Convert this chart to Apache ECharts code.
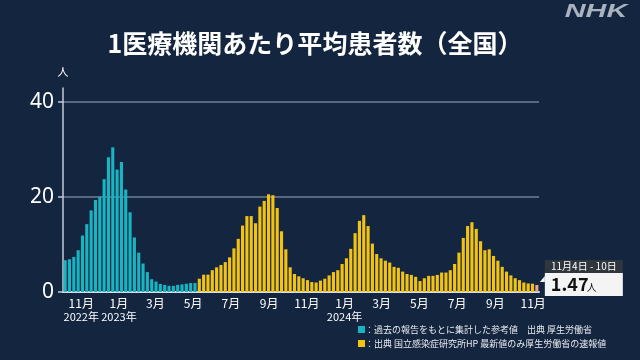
<!DOCTYPE html>
<html><head><meta charset="utf-8">
<script src="https://cdn.jsdelivr.net/npm/echarts@6/dist/echarts.min.js"></script>
<style>html,body{margin:0;padding:0;background:#13253f;}#c{width:640px;height:360px;}</style>
</head><body><div id="c"></div>
<script>
const chartTitle = '1医療機関あたり平均患者数（全国）';
const firstWeekStart = [2022, 10, 3];
const weekCount = 110;
const tealValues = [6.7, 6.9, 7.4, 8.8, 11.9, 14.3, 17.2, 19.4, 20.1, 23.8, 28.4, 30.5, 25.8, 27.4, 21.6, 16.8, 11.5, 8.3, 6.0, 4.2, 2.7, 2.2, 1.7, 1.5, 1.3, 1.3, 1.5, 1.6, 1.75, 1.9, 1.9];
const yellowValues = [2.8, 3.65, 3.65, 4.6, 5.2, 5.7, 6.3, 7.3, 9.2, 11.2, 14.0, 16.0, 16.0, 14.5, 18.0, 19.2, 20.6, 20.4, 17.7, 12.8,
  9.0, 5.2, 3.8, 3.3, 2.9, 2.5, 2.1, 2.0, 2.4, 2.8, 3.5, 4.2, 4.6, 5.9, 7.1, 9.1, 12.4, 15.0, 16.2, 13.9,
  10.2, 8.0, 7.1, 6.6, 6.2, 5.3, 5.1, 4.3, 3.8, 3.6, 3.2, 2.3, 2.9, 3.4, 3.4, 3.6, 4.1, 4.1, 4.6, 5.9,
  8.3, 11.4, 13.9, 14.7, 13.3, 10.7, 8.8, 9.0, 7.6, 6.6, 5.3, 4.3, 3.5, 2.9, 2.5, 2.0, 1.8, 1.75, 1.47];
const yTickValues = [0, 20, 40];
const yUnit = '人';
const latestPeriod = '11月4日 - 10日';
const latestValueText = '1.47';
const legendTealText = '：過去の報告をもとに集計した参考値　出典 厚生労働省';
const legendYellowText = '：出典 国立感染症研究所HP 最新値のみ厚生労働省の速報値';
const logoText = 'NHK';

const FONT = '"Noto Sans CJK JP", "Noto Sans", sans-serif';
const TEAL = '#19b4c2';
const YELLOW = '#f3c313';
const LAST = '#e6a98c';
const DAY = 86400000;

const t0 = Date.UTC(firstWeekStart[0], firstWeekStart[1] - 1, firstWeekStart[2]);
const categories = [];
for (let i = 0; i < weekCount; i++) categories.push(new Date(t0 + i * 7 * DAY).toISOString().slice(0, 10));
// daily calendar spanning the same weeks, used only to place month labels
const days = [];
for (let i = 0; i < weekCount * 7; i++) days.push(new Date(t0 + i * DAY).toISOString().slice(0, 10));

function isOddMonthStart(v) {
  const d = new Date(v + 'T00:00:00Z');
  return d.getUTCDate() === 1 && (d.getUTCMonth() + 1) % 2 === 1;
}
let firstLabelDay = 0;
for (let i = 0; i < days.length; i++) { if (isOddMonthStart(days[i])) { firstLabelDay = i; break; } }

const nTeal = tealValues.length;
const tealData = categories.map((c, i) => i < nTeal ? tealValues[i] : '-');
const yellowData = categories.map((c, i) => {
  if (i < nTeal) return '-';
  const v = yellowValues[i - nTeal];
  if (i === weekCount - 1) return { value: v, itemStyle: { color: LAST } };
  return v;
});

const chart = echarts.init(document.getElementById('c'), null, { renderer: 'canvas' });
const option = {
  backgroundColor: '#13253f',
  animation: false,
  textStyle: { fontFamily: FONT },
  grid: { left: 63, right: 101, top: 88, bottom: 68, containLabel: false },
  xAxis: [{
    type: 'category', data: categories, boundaryGap: true,
    axisLine: { lineStyle: { color: '#d9dee6', width: 2 } },
    axisTick: { show: false },
    axisLabel: { show: false }
  }, {
    type: 'category', data: days, boundaryGap: true, position: 'bottom',
    axisLine: { show: false }, axisTick: { show: false }, splitLine: { show: false },
    axisLabel: {
      interval: (i, v) => isOddMonthStart(v), showMinLabel: true, showMaxLabel: true, hideOverlap: false,
      color: '#ffffff', fontSize: 12, lineHeight: 14, margin: 4, fontFamily: FONT,
      rich: { y: { fontSize: 11, lineHeight: 14, color: '#ffffff', fontFamily: FONT } },
      formatter: (v, i) => {
        if (!isOddMonthStart(v)) return '';
        const d = new Date(v + 'T00:00:00Z');
        const m = d.getUTCMonth() + 1;
        let s = m + '月';
        if (m === 1 || i === firstLabelDay) s += '\n{y|' + d.getUTCFullYear() + '年}';
        return s;
      }
    }
  }],
  yAxis: {
    type: 'value', min: 0, max: 43, interval: 20,
    name: yUnit, nameLocation: 'end', nameGap: 11,
    nameTextStyle: { color: '#ffffff', fontSize: 11, fontFamily: FONT, align: 'center' },
    axisLine: { show: true, lineStyle: { color: '#c3cbd6', width: 1.5 } },
    axisTick: { show: true, length: 5, lineStyle: { color: '#c3cbd6', width: 1.5 } },
    axisLabel: {
      color: '#ffffff', fontSize: 21, margin: 9, fontFamily: '"Noto Sans", sans-serif', showMaxLabel: false,
      formatter: (v) => yTickValues.indexOf(v) >= 0 ? String(v) : ''
    },
    splitLine: { show: true, showMaxLine: false, lineStyle: { color: '#6f7f95', width: 1.5 } }
  },
  series: [
    { type: 'bar', name: 'teal', xAxisIndex: 0, data: tealData, itemStyle: { color: TEAL }, barWidth: '72%', barGap: '-100%' },
    { type: 'bar', name: 'yellow', xAxisIndex: 0, data: yellowData, itemStyle: { color: YELLOW }, barWidth: '72%', barGap: '-100%' }
  ]
};
chart.setOption(option);

const last = chart.convertToPixel({ seriesIndex: 1 }, [weekCount - 1, yellowValues[yellowValues.length - 1]]);
const bx = last[0], by = last[1];
const boxL = bx + 8, boxW = 78;

chart.setOption({
  graphic: [
    { type: 'text', x: 315, y: 43, style: { text: chartTitle, fill: '#ffffff', font: 'bold 25px ' + FONT, textAlign: 'center', textVerticalAlign: 'middle' } },
    { type: 'text', x: 596, y: 12, scaleX: 1.6, originX: 0, originY: 0, style: { text: logoText, fill: '#a9b2bf', font: 'italic 900 18px "Liberation Sans", sans-serif', textAlign: 'center', textVerticalAlign: 'middle' } },
    { type: 'rect', shape: { x: 358, y: 326, width: 7, height: 7 }, style: { fill: TEAL } },
    { type: 'text', x: 365, y: 329.5, style: { text: legendTealText, fill: '#e8eaee', font: '9px ' + FONT, textVerticalAlign: 'middle' } },
    { type: 'rect', shape: { x: 358, y: 340, width: 7, height: 7 }, style: { fill: YELLOW } },
    { type: 'text', x: 365, y: 343.5, style: { text: legendYellowText, fill: '#e8eaee', font: '9px ' + FONT, textVerticalAlign: 'middle' } },
    { type: 'rect', shape: { x: boxL, y: by - 25, width: boxW, height: 13 }, style: { fill: '#2f363e' } },
    { type: 'text', x: boxL + boxW / 2, y: by - 18.5, style: { text: latestPeriod, fill: '#ffffff', font: '10px ' + FONT, textAlign: 'center', textVerticalAlign: 'middle' } },
    { type: 'rect', shape: { x: boxL, y: by - 12, width: boxW, height: 23 }, style: { fill: '#f4f4f4' } },
    { type: 'text', x: boxL + 6, y: by - 0.5, style: { text: latestValueText, fill: '#111111', font: 'bold 18px ' + FONT, textVerticalAlign: 'middle' } },
    { type: 'text', x: boxL + 42, y: by + 2, style: { text: yUnit, fill: '#111111', font: '10px ' + FONT, textVerticalAlign: 'middle' } },
    { type: 'polygon', shape: { points: [[boxL, by - 9], [boxL, by - 3], [boxL - 5, by - 3]] }, style: { fill: '#f4f4f4' } }
  ]
});
</script></body></html>
